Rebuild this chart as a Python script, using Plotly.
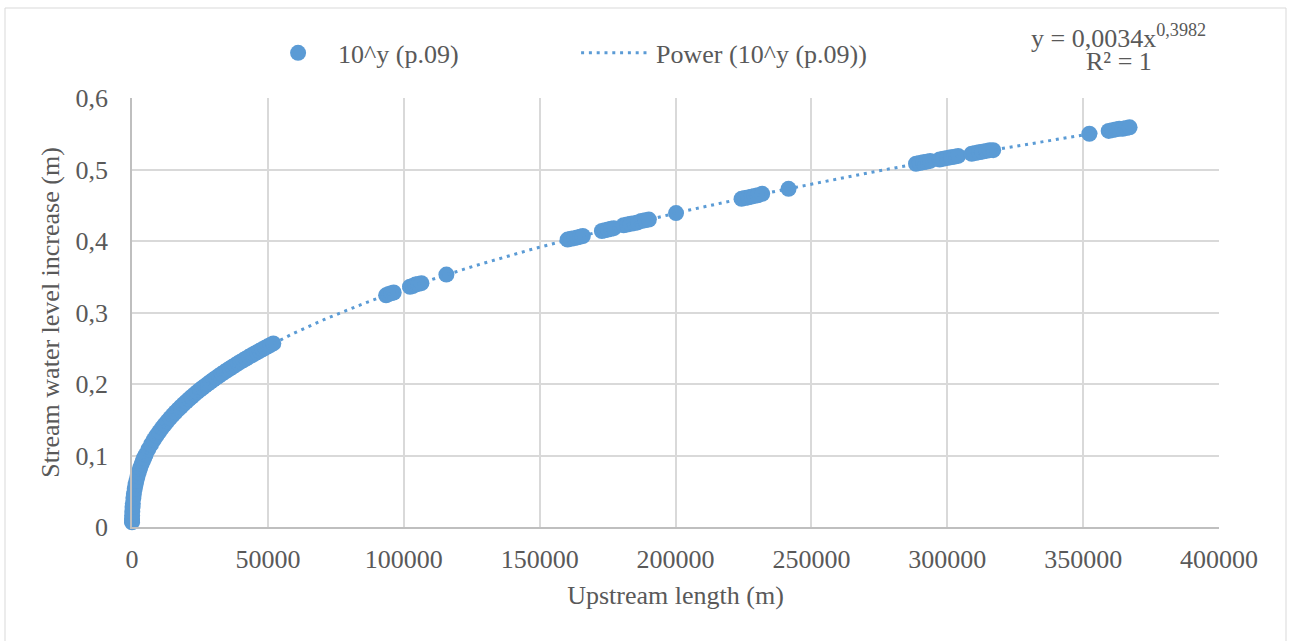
import numpy as np
import plotly.graph_objects as go

# Upstream length (m) and stream water level increase (m) for each point
upstream_length_m = [
    5, 10, 20, 50, 100, 200, 300, 500, 700, 1000, 1300, 1600, 2000, 2500,
    3000, 3500, 4000, 4500, 5000, 6000, 7000, 8000, 9000, 10000, 11000,
    12000, 13000, 14000, 15000, 16000, 17000, 18000, 19000, 20000, 21000,
    22000, 23000, 24000, 25000, 26000, 27000, 28000, 29000, 30000, 31000,
    32000, 33000, 34000, 35000, 36000, 37000, 38000, 39000, 40000, 41000,
    42000, 43000, 44000, 45000, 46000, 47000, 48000, 49000, 50000, 51000,
    52000,
    93500, 94500, 95500, 96300,
    102300, 103300, 104300, 105300, 106500,
    115700,
    160300, 161500, 162700, 163900, 165000, 165900,
    172900, 174000, 175200, 176300, 177300,
    180900, 182200, 183500, 184800, 186100, 187400, 188800, 190200,
    200200,
    224300, 225500, 226700, 227900, 229100, 230300, 231900,
    241600,
    288500, 289800, 291100, 292400, 293700,
    297200, 298500, 299900, 301300, 302700, 304000,
    309000, 310300, 311600, 312900, 314300, 315600, 316900,
    352300,
    359400, 360700, 362000, 363300, 364600, 365900, 367100,
]
level_increase_m = [
    0.0065, 0.0085, 0.0112, 0.0161, 0.0213, 0.0280, 0.0330, 0.0404, 0.0462,
    0.0532, 0.0591, 0.0642, 0.0702, 0.0766, 0.0824, 0.0876, 0.0924, 0.0969,
    0.1010, 0.1086, 0.1155, 0.1218, 0.1277, 0.1331, 0.1383,
    0.1432, 0.1478, 0.1522, 0.1565, 0.1605, 0.1645, 0.1682, 0.1719, 0.1754,
    0.1789, 0.1822, 0.1855, 0.1887, 0.1918, 0.1948, 0.1977, 0.2006, 0.2034,
    0.2062, 0.2089, 0.2115, 0.2142, 0.2167, 0.2192, 0.2217, 0.2241, 0.2265,
    0.2289, 0.2312, 0.2335, 0.2357, 0.2380, 0.2402, 0.2423, 0.2444, 0.2465,
    0.2486, 0.2507, 0.2527, 0.2547, 0.2567,
    0.324, 0.326, 0.327, 0.328,
    0.336, 0.337, 0.339, 0.340, 0.341,
    0.353,
    0.402, 0.403, 0.404, 0.405, 0.406, 0.407,
    0.414, 0.415, 0.416, 0.417, 0.418,
    0.422, 0.423, 0.424, 0.425, 0.426, 0.428, 0.429, 0.430,
    0.439,
    0.459, 0.460, 0.461, 0.462, 0.463, 0.464, 0.466,
    0.473,
    0.508, 0.509, 0.510, 0.511, 0.512,
    0.514, 0.515, 0.516, 0.517, 0.518, 0.519,
    0.522, 0.523, 0.524, 0.525, 0.526, 0.527, 0.527,
    0.550,
    0.554, 0.555, 0.556, 0.557, 0.557, 0.558, 0.559,
]

# Power trendline fitted to the series: y = a * x^b
trend_a = 0.0034
trend_b = 0.3982
trend_r2 = 1

x_ticks = [0, 50000, 100000, 150000, 200000, 250000, 300000, 350000, 400000]
y_ticks = [0, 0.1, 0.2, 0.3, 0.4, 0.5, 0.6]
y_tick_labels = ["0", "0,1", "0,2", "0,3", "0,4", "0,5", "0,6"]

BLUE = "#5B9BD5"
TEXT = "#595959"
GRID = "#D9D9D9"
AXIS = "#BFBFBF"
FONT = "Liberation Serif"
FS = 26

trend_x = np.geomspace(min(upstream_length_m), max(upstream_length_m), 600)
trend_y = trend_a * trend_x ** trend_b

fig = go.Figure()
fig.add_trace(go.Scatter(
    x=upstream_length_m, y=level_increase_m, mode="markers",
    name="10^y (p.09)",
    marker=dict(color=BLUE, size=16, line=dict(width=0)),
    cliponaxis=False,
))
fig.add_trace(go.Scatter(
    x=trend_x, y=trend_y, mode="lines",
    name="Power (10^y (p.09))",
    line=dict(color=BLUE, width=3, dash="3px,4.8px"),
    hoverinfo="skip",
))

fig.update_layout(
    width=1292, height=641,
    margin=dict(l=132, r=73, t=98, b=114),
    paper_bgcolor="white", plot_bgcolor="white",
    font=dict(family=FONT, size=FS, color=TEXT),
    showlegend=True,
    legend=dict(
        orientation="h", x=0.116, y=1.105, xanchor="left", yanchor="middle",
        font=dict(family=FONT, size=FS, color=TEXT),
        itemwidth=70, entrywidth=233, entrywidthmode="pixels",
        bgcolor="rgba(0,0,0,0)",
    ),
    xaxis=dict(
        range=[0, 400000], tickvals=x_ticks, tickformat="d",
        showgrid=True, gridcolor=GRID, gridwidth=1.5,
        showline=True, linecolor=AXIS, linewidth=1.5,
        zeroline=False, ticks="", ticklabelstandoff=8,
        tickfont=dict(family=FONT, size=FS, color=TEXT),
        title=dict(text="Upstream length (m)", standoff=13,
                   font=dict(family=FONT, size=FS, color=TEXT)),
    ),
    yaxis=dict(
        range=[0, 0.6], tickvals=y_ticks, ticktext=y_tick_labels,
        showgrid=True, gridcolor=GRID, gridwidth=1.5,
        showline=True, linecolor=AXIS, linewidth=1.5,
        zeroline=False, ticks="", ticklabelstandoff=17,
        tickfont=dict(family=FONT, size=FS, color=TEXT),
        title=dict(text="Stream water level increase (m)", standoff=8,
                   font=dict(family=FONT, size=FS, color=TEXT)),
    ),
    shapes=[dict(
        type="rect", xref="paper", yref="paper",
        x0=(5 - 132) / 1087, x1=(1286 - 132) / 1087,
        y0=(527 - 660) / 429, y1=(527 - 8) / 429,
        line=dict(color=GRID, width=1), fillcolor="rgba(0,0,0,0)",
        layer="below",
    )],
    annotations=[
        dict(text="y = 0,%sx<sup>0,%s</sup>" % (str(trend_a).split(".")[1],
                                                str(trend_b).split(".")[1]),
             xref="paper", yref="paper", x=(1118 - 132) / 1087,
             y=(527 - 36) / 429, xanchor="center", yanchor="middle",
             showarrow=False, font=dict(family=FONT, size=FS, color=TEXT)),
        dict(text="R² = %d" % trend_r2,
             xref="paper", yref="paper", x=(1119 - 132) / 1087,
             y=(527 - 62) / 429, xanchor="center", yanchor="middle",
             showarrow=False, font=dict(family=FONT, size=FS, color=TEXT)),
    ],
)

fig.write_html("out.html")
